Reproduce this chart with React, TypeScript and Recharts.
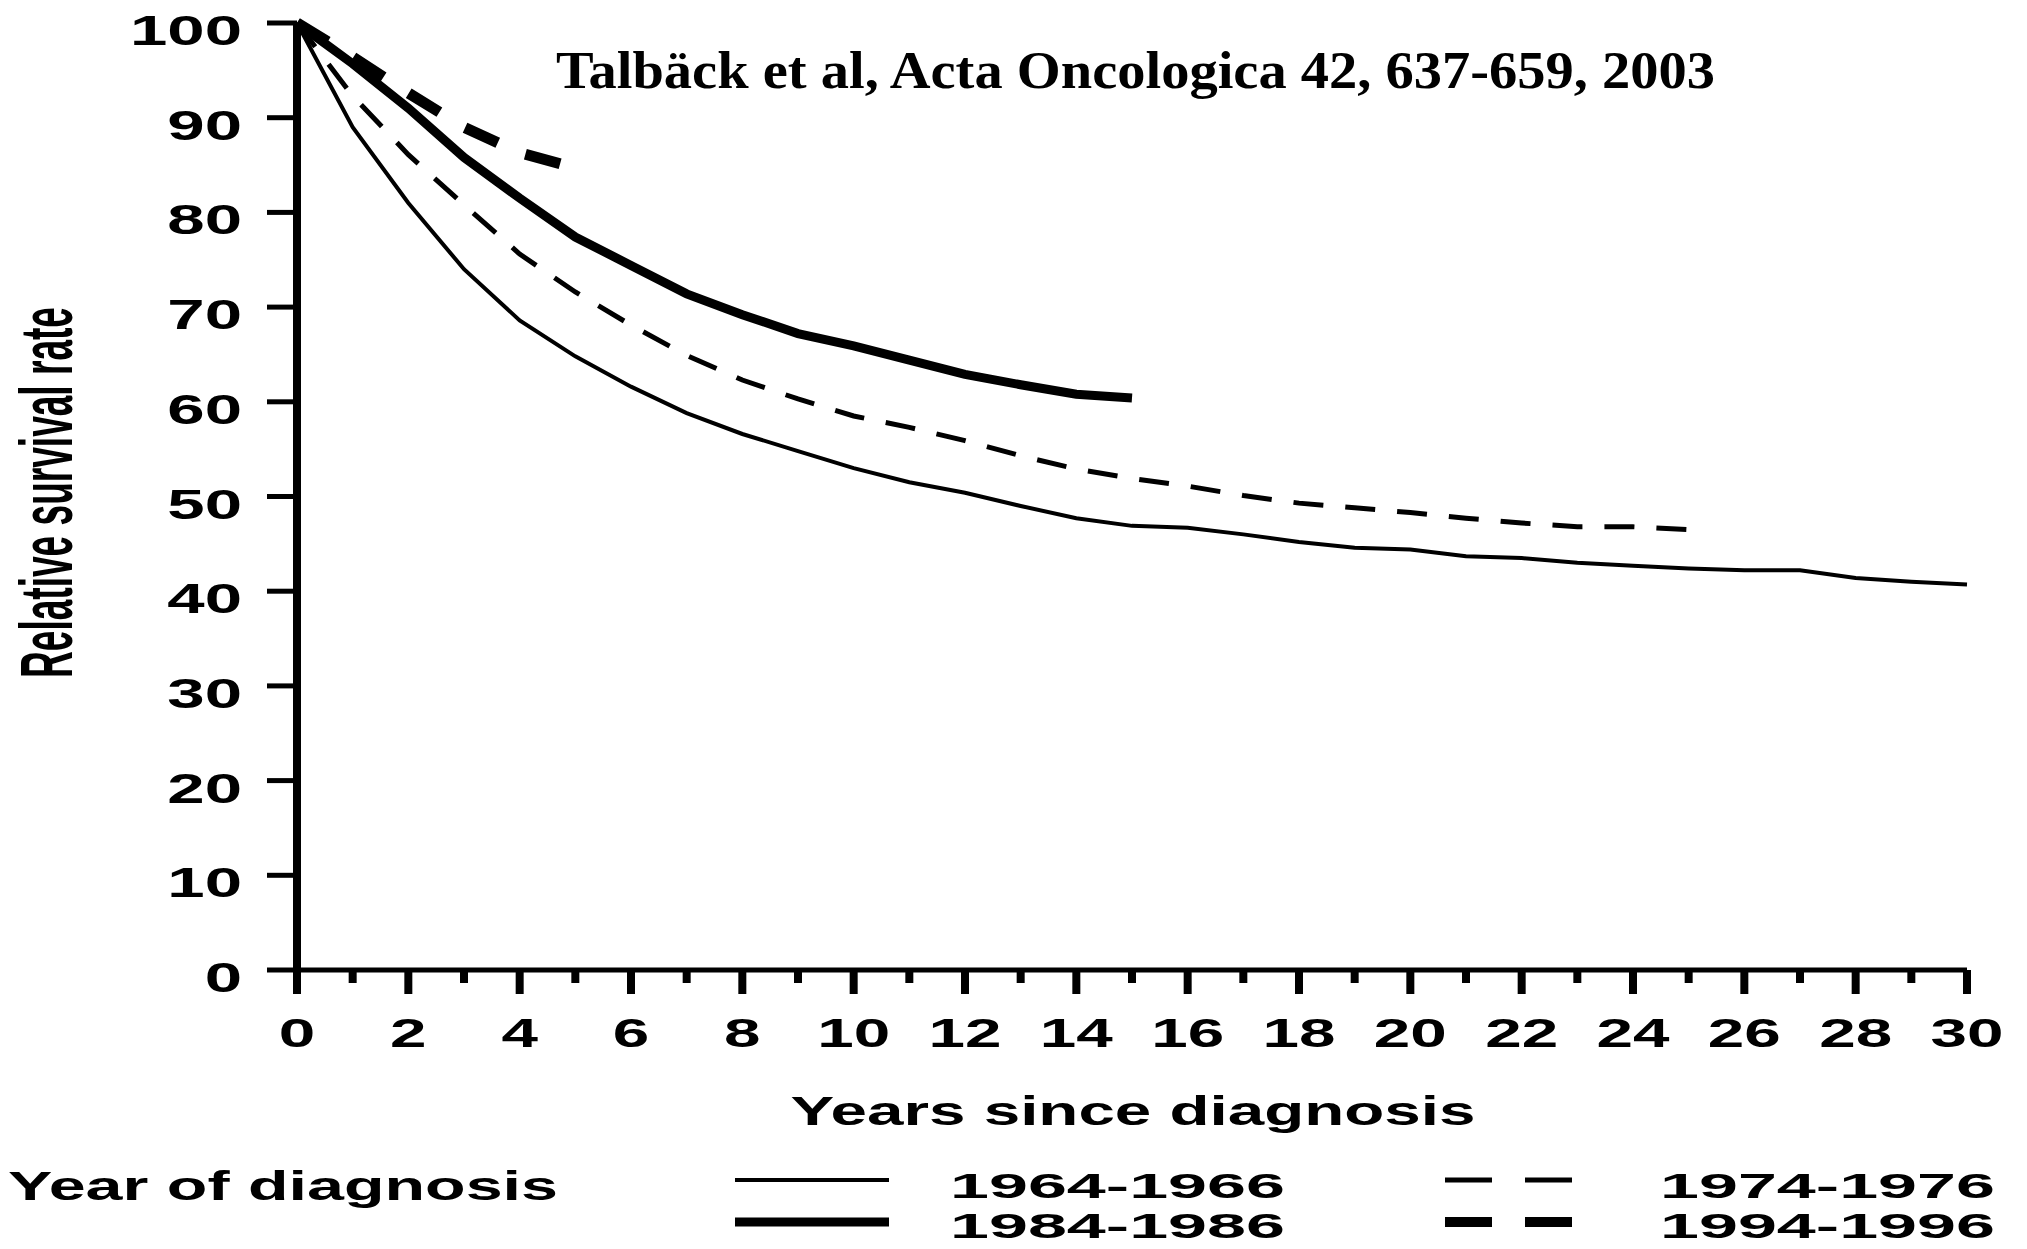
import { LineChart, Line, XAxis, YAxis, Label } from "recharts";

// years since diagnosis
const years = [0, 1, 2, 3, 4, 5, 6, 7, 8, 9, 10, 11, 12, 13, 14, 15, 16, 17, 18, 19, 20, 21, 22, 23, 24, 25, 26, 27, 28, 29, 30];

// relative survival (%) per diagnosis period
const surv1964 = [100, 89, 81, 74, 68.6, 64.8, 61.6, 58.8, 56.6, 54.8, 53, 51.5, 50.4, 49, 47.7, 46.9, 46.7, 46, 45.2, 44.6, 44.4, 43.7, 43.5, 43, 42.7, 42.4, 42.2, 42.2, 41.4, 41, 40.7];
const surv1974 = [100, 92.3, 86.1, 80.8, 75.6, 71.6, 68.1, 64.9, 62.3, 60.3, 58.5, 57.3, 55.9, 54.3, 52.9, 51.9, 51.1, 50.1, 49.3, 48.8, 48.3, 47.7, 47.2, 46.8, 46.8, 46.5];
const surv1984 = [100, 95.7, 91, 85.8, 81.5, 77.4, 74.4, 71.4, 69.2, 67.2, 65.9, 64.4, 62.9, 61.8, 60.8, 60.4];
const surv1994 = [100, 96.4, 92.6, 89, 86.3, 84.7];

const yTicks = [0, 10, 20, 30, 40, 50, 60, 70, 80, 90, 100];
const xLabelTicks = [0, 2, 4, 6, 8, 10, 12, 14, 16, 18, 20, 22, 24, 26, 28, 30];

const periods = ["1964-1966", "1974-1976", "1984-1986", "1994-1996"];

const series = [
  { key: "p1964", name: periods[0], values: surv1964, width: 4, dash: undefined },
  { key: "p1974", name: periods[1], values: surv1974, width: 5, dash: "30 22" },
  { key: "p1984", name: periods[2], values: surv1984, width: 9, dash: undefined },
  { key: "p1994", name: periods[3], values: surv1994, width: 11, dash: "36 30" },
];

const data = years.map((t, i) => {
  const row: Record<string, number | undefined> = { t };
  series.forEach((s) => {
    row[s.key] = s.values[i];
  });
  return row;
});

const SANS = '"Liberation Sans", Arial, sans-serif';
const SERIF = '"Liberation Serif", "Times New Roman", serif';

const XTick = (props: any) => {
  const { x, y, payload } = props;
  const labelled = xLabelTicks.includes(payload.value);
  return (
    <g>
      <line x1={x} x2={x} y1={y} y2={y + (labelled ? 24 : 13)} stroke="#000" strokeWidth={8} />
      {labelled && (
        <text
          transform={`translate(${x},${y + 77}) scale(1.6,1)`}
          textAnchor="middle"
          fontFamily={SANS}
          fontWeight="bold"
          fontSize={41}
          fill="#000"
        >
          {payload.value}
        </text>
      )}
    </g>
  );
};

const YTick = (props: any) => {
  const { x, y, payload } = props;
  return (
    <g>
      <line x1={x - 30} x2={x} y1={y} y2={y} stroke="#000" strokeWidth={5} />
      <text
        transform={`translate(${x - 55},${y + 22}) scale(1.6,1)`}
        textAnchor="end"
        fontFamily={SANS}
        fontWeight="bold"
        fontSize={42}
        fill="#000"
      >
        {payload.value}
      </text>
    </g>
  );
};

const legendRows = [
  { y: 1180, textY: 1198 },
  { y: 1222, textY: 1238 },
];

export default function App() {
  return (
    <div style={{ position: "absolute", left: 0, top: 0, width: 2027, height: 1249, background: "#fff" }}>
      <LineChart
        width={2027}
        height={1249}
        data={data}
        margin={{ top: 23, right: 60, left: 0, bottom: 0 }}
      >
        <XAxis
          dataKey="t"
          type="number"
          domain={[0, 30]}
          ticks={years}
          interval={0}
          height={279}
          tickSize={0}
          tickMargin={0}
          tickLine={false}
          axisLine={{ stroke: "#000", strokeWidth: 5 }}
          tick={<XTick />}
        >
          <Label
            content={(p: any) => {
              const vb = p.viewBox || { x: 297, y: 970, width: 1670 };
              return (
                <text
                  x={vb.x + vb.width / 2 + 1}
                  y={vb.y + 155}
                  textAnchor="middle"
                  fontFamily={SANS}
                  fontWeight="bold"
                  fontSize={40}
                  textLength={685}
                  lengthAdjust="spacingAndGlyphs"
                  fill="#000"
                >
                  Years since diagnosis
                </text>
              );
            }}
          />
        </XAxis>
        <YAxis
          type="number"
          domain={[0, 100]}
          ticks={yTicks}
          interval={0}
          width={297}
          tickSize={0}
          tickMargin={0}
          tickLine={false}
          axisLine={{ stroke: "#000", strokeWidth: 8 }}
          tick={<YTick />}
        >
          <Label
            content={(p: any) => {
              const vb = p.viewBox || { y: 23, height: 947 };
              const cy = vb.y + vb.height / 2 - 4;
              return (
                <text
                  transform={`translate(72,${cy}) scale(1.6,1) rotate(-90)`}
                  textAnchor="middle"
                  fontFamily={SANS}
                  fontWeight="bold"
                  fontSize={46}
                  textLength={371}
                  lengthAdjust="spacingAndGlyphs"
                  fill="#000"
                >
                  Relative survival rate
                </text>
              );
            }}
          />
        </YAxis>
        {series.map((s) => (
          <Line
            key={s.key}
            type="linear"
            dataKey={s.key}
            name={s.name}
            stroke="#000"
            strokeWidth={s.width}
            strokeDasharray={s.dash}
            dot={false}
            activeDot={false}
            isAnimationActive={false}
          />
        ))}
      </LineChart>

      <svg
        width={2027}
        height={1249}
        style={{ position: "absolute", left: 0, top: 0, pointerEvents: "none" }}
      >
        <text
          x={556}
          y={88}
          fontFamily={SERIF}
          fontWeight="bold"
          fontSize={52}
          textLength={1159}
          lengthAdjust="spacingAndGlyphs"
          fill="#000"
        >
          Talbäck et al, Acta Oncologica 42, 637-659, 2003
        </text>

        {/* legend */}
        <text
          x={8}
          y={1200}
          fontFamily={SANS}
          fontWeight="bold"
          fontSize={40}
          textLength={550}
          lengthAdjust="spacingAndGlyphs"
          fill="#000"
        >
          Year of diagnosis
        </text>
        {series.map((s, i) => {
          const row = legendRows[i < 2 ? 0 : 1];
          const col = i % 2;
          const x1 = col === 0 ? 735 : 1445;
          const x2 = col === 0 ? 889 : 1572;
          const tx = col === 0 ? 950 : 1660;
          return (
            <g key={s.key}>
              <line
                x1={x1}
                x2={x2}
                y1={row.y}
                y2={row.y}
                stroke="#000"
                strokeWidth={s.dash ? (i < 2 ? 5 : 10) : i < 2 ? 4 : 9}
                strokeDasharray={s.dash ? "47 33" : undefined}
              />
              <text
                x={tx}
                y={row.textY}
                fontFamily={SANS}
                fontWeight="bold"
                fontSize={35}
                textLength={335}
                lengthAdjust="spacingAndGlyphs"
                fill="#000"
              >
                {s.name}
              </text>
            </g>
          );
        })}
      </svg>
    </div>
  );
}
